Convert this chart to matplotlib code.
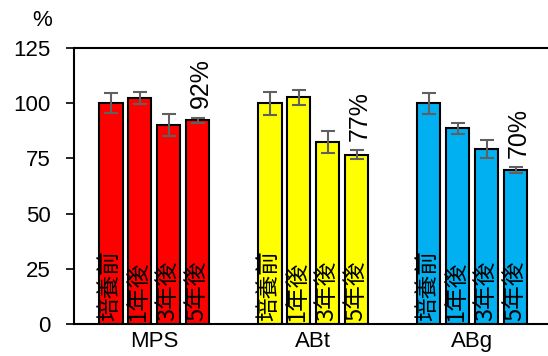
import matplotlib
matplotlib.use("Agg")
import matplotlib.pyplot as plt
import numpy as np

plt.rcParams['font.family'] = ['Liberation Sans', 'Noto Sans CJK JP', 'DejaVu Sans']

groups = ["MPS", "ABt", "ABg"]
periods = ["培養前", "1年後", "3年後", "5年後"]
values = {
    "MPS": [100, 102.4, 90, 92.4],
    "ABt": [100, 102.7, 82.3, 76.7],
    "ABg": [100, 88.6, 79.3, 69.7],
}
errors = {
    "MPS": [4.5, 2.7, 5.0, 1.1],
    "ABt": [5.3, 3.5, 5.0, 2.0],
    "ABg": [4.6, 2.5, 3.9, 1.2],
}
pct_labels = ["92%", "77%", "70%"]
colors = ["#FF0000", "#FFFF00", "#00B0F0"]
yticks = [0, 25, 50, 75, 100, 125]

fig = plt.figure(figsize=(5.48, 3.56), dpi=100)
ax = fig.add_axes([74/548, 32.3/356, 1 - 74/548, 275.4/356])

group_pitch = 5.5
width = 0.8
for g, name in enumerate(groups):
    xs = g * group_pitch + np.arange(len(periods))
    bars = ax.bar(xs, values[name], width=width, color=colors[g],
                  edgecolor="black", linewidth=1.5, zorder=2)
    ax.errorbar(xs, values[name], yerr=errors[name], fmt="none",
                ecolor="#606060", elinewidth=1.5, capsize=5, capthick=1.5, zorder=3)
    for b, x, lab in zip(bars, xs, periods):
        t = ax.text(x - 0.04, 1.2, lab, rotation=90, ha="center", va="bottom",
                    fontsize=17, color="black", zorder=4,
                    family=['Noto Sans CJK JP', 'Liberation Sans'])
        t.set_clip_path(b)
    top = values[name][-1] + errors[name][-1]
    ax.annotate(pct_labels[g], (xs[-1], top), xytext=(2, 7), textcoords="offset points",
                rotation=90, ha="center", va="bottom", fontsize=18, zorder=4)

ax.set_xlim(-1.28, 15.12)
ax.set_ylim(0, 125)
ax.set_yticks(yticks)
ax.set_xticks([g * group_pitch + 1.5 for g in range(len(groups))])
ax.set_xticklabels(groups)
ax.tick_params(axis="y", direction="out", length=6, width=1.2, labelsize=16, pad=11)
ax.tick_params(axis="x", length=0, labelsize=16, pad=5)
for s in ["left", "bottom", "top"]:
    ax.spines[s].set_linewidth(1.5)
ax.spines["right"].set_visible(False)

fig.text(42/548, 1 - 21/356, "%", ha="center", va="center", fontsize=16)

fig.savefig("out.png", dpi=100)
